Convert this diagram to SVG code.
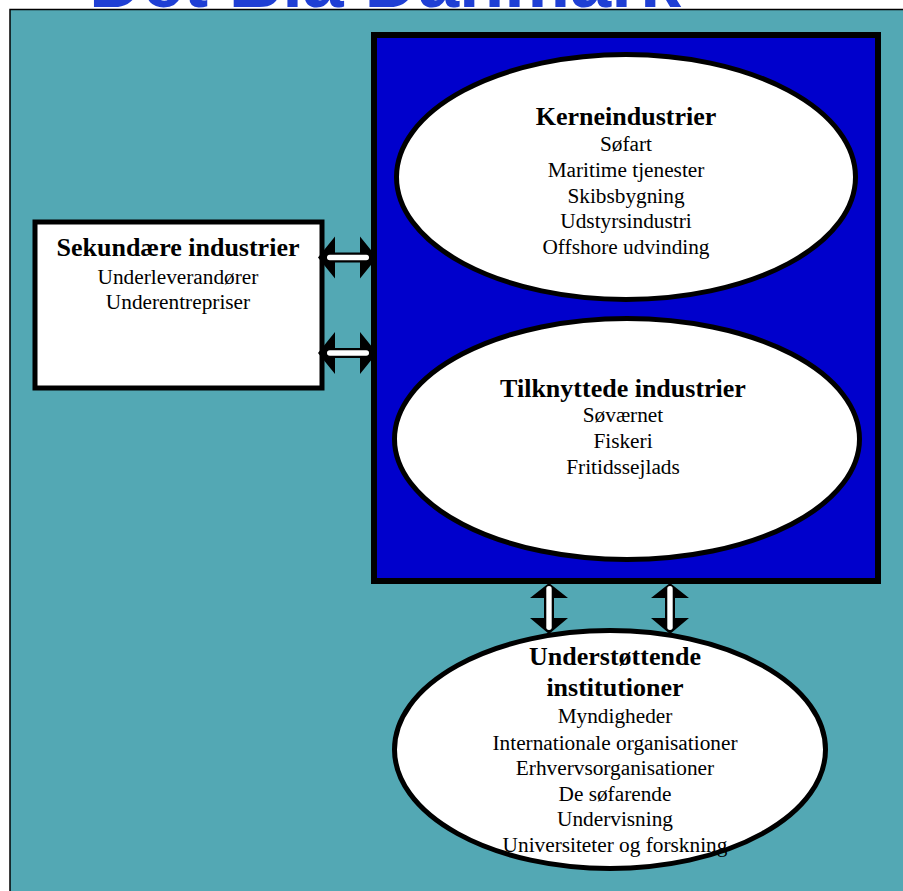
<svg xmlns="http://www.w3.org/2000/svg" width="903" height="891" viewBox="0 0 903 891">
  <style>
    .title { font-family: "Liberation Sans", Arial, sans-serif; font-weight: bold; font-size: 74px; fill: #1F3FD4; }
    .head { font-family: "Liberation Serif", "Times New Roman", serif; font-weight: bold; font-size: 26px; fill: #000; text-anchor: middle; }
    .item { font-family: "Liberation Serif", "Times New Roman", serif; font-size: 21.3px; fill: #000; text-anchor: middle; }
    .node { fill: #FFFFFF; stroke: #000; stroke-width: 5; }
    .arrow { fill: #000; }
    .shaft { fill: #FFFFFF; }
  </style>
  <rect x="0" y="0" width="903" height="891" fill="#FFFFFF"/>
  <text class="title" x="89" y="7">Det Blå Danmark</text>
  <rect x="10" y="9.5" width="900" height="890" fill="#53A8B4" stroke="#000" stroke-width="1.5"/>

  <g id="core-frame">
    <rect x="374" y="35" width="504" height="546" fill="#0000CC" stroke="#000" stroke-width="6"/>
  </g>

  <g id="kerneindustrier">
    <ellipse class="node" cx="626" cy="177" rx="229.5" ry="122.5"/>
    <text class="head" x="626" y="125">Kerneindustrier</text>
    <text class="item" x="626" y="151">Søfart</text>
    <text class="item" x="626" y="177">Maritime tjenester</text>
    <text class="item" x="626" y="203">Skibsbygning</text>
    <text class="item" x="626" y="228">Udstyrsindustri</text>
    <text class="item" x="626" y="254">Offshore udvinding</text>
  </g>

  <g id="tilknyttede">
    <ellipse class="node" cx="627" cy="439" rx="232.5" ry="120.5"/>
    <text class="head" x="623" y="397">Tilknyttede industrier</text>
    <text class="item" x="623" y="422">Søværnet</text>
    <text class="item" x="623" y="448">Fiskeri</text>
    <text class="item" x="623" y="474">Fritidssejlads</text>
  </g>

  <g id="sekundaere">
    <rect class="node" x="35" y="222" width="287" height="166" stroke-width="6"/>
    <text class="head" x="178" y="256">Sekundære industrier</text>
    <text class="item" x="178" y="284">Underleverandører</text>
    <text class="item" x="178" y="309">Underentrepriser</text>
  </g>

  <g id="understoettende">
    <ellipse class="node" cx="610" cy="749.5" rx="215.5" ry="119"/>
    <text class="head" x="615" y="665">Understøttende</text>
    <text class="head" x="615" y="696">institutioner</text>
    <text class="item" x="615" y="723">Myndigheder</text>
    <text class="item" x="615" y="750">Internationale organisationer</text>
    <text class="item" x="615" y="775">Erhvervsorganisationer</text>
    <text class="item" x="615" y="801">De søfarende</text>
    <text class="item" x="615" y="826">Undervisning</text>
    <text class="item" x="615" y="852">Universiteter og forskning</text>
  </g>

  <g id="connectors">
    <g transform="translate(0,257.5)">
      <polygon class="arrow" points="318,0 335,-21 335,-5 360,-5 360,-21 377,0 360,21 360,5 335,5 335,21"/>
      <rect class="shaft" x="327" y="-2.8" width="42" height="5.6" rx="2.8"/>
    </g>
    <g transform="translate(0,353)">
      <polygon class="arrow" points="318,0 335,-21 335,-5 360,-5 360,-21 377,0 360,21 360,5 335,5 335,21"/>
      <rect class="shaft" x="327" y="-2.8" width="42" height="5.6" rx="2.8"/>
    </g>
    <g transform="translate(549,0)">
      <polygon class="arrow" points="0,583 19,598 5,598 5,618 19,618 0,634 -19,618 -5,618 -5,598 -19,598"/>
      <rect class="shaft" x="-2.7" y="586" width="5.4" height="44" rx="2.7"/>
    </g>
    <g transform="translate(670,0)">
      <polygon class="arrow" points="0,583 19,598 5,598 5,618 19,618 0,634 -19,618 -5,618 -5,598 -19,598"/>
      <rect class="shaft" x="-2.7" y="586" width="5.4" height="44" rx="2.7"/>
    </g>
  </g>
</svg>
